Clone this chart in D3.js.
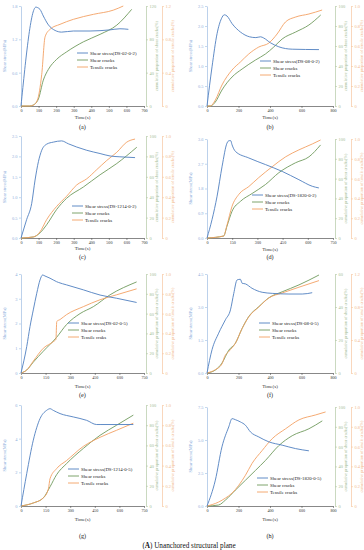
<!DOCTYPE html>
<html>
<head>
<meta charset="utf-8">
<script src="https://cdn.jsdelivr.net/npm/d3@7"></script>
<style>
  body { margin: 0; background: #fff; }
  svg { display: block; font-family: "Liberation Serif", "DejaVu Serif", serif; }
</style>
</head>
<body>
<div id="container"></div>
<script>
// specimen names and panel tags
const specimens = ["DS-02-0-2", "DS-08-0-2", "DS-1214-0-2", "DS-1820-0-2",
                   "DS-02-0-5", "DS-08-0-5", "DS-1214-0-5", "DS-1820-0-5"];
const tags = ["(a)", "(b)", "(c)", "(d)", "(e)", "(f)", "(g)", "(h)"];
const tensileNames = ["Tensile cracks", "Tensile cracks", "Tensile cracks", "Tensile cracks",
                      "Tensile craks", "Tensile cracks", "Tensile cracks", "Tensile cracks"];

// [time(s), value]
const stressA = [[0,0],[85,1.78],[95,1.77],[108,1.74],[127,1.62],[156,1.46],[194,1.36],[231,1.33],[298,1.35],[393,1.35],[506,1.37],[563,1.39],[611,1.38]];
const shearA = [[0,0],[50,0],[70,1.2],[99,8.4],[127,31],[156,44],[203,56],[260,65],[355,77],[450,86],[545,97],[630,116]];
const tensileA = [[0,0],[50,0],[70,0.01],[93,0.07],[118,0.38],[137,0.83],[165,0.92],[222,0.98],[298,1.04],[412,1.1],[525,1.15],[582,1.2]];

const stressB = [[0,0],[32,0.98],[64,1.81],[91,2.18],[110,2.28],[127,2.25],[159,2.06],[212,1.85],[270,1.73],[310,1.71],[340,1.73],[360,1.7],[403,1.58],[456,1.48],[541,1.42],[711,1.41]];
const shearB = [[0,0],[21,0],[53,4],[95,16],[159,29],[223,37],[308,46],[371,52],[424,59],[477,67],[563,74],[647,81],[722,91]];
const tensileB = [[0,0],[21,0],[53,0.06],[95,0.21],[159,0.36],[212,0.44],[265,0.52],[329,0.59],[393,0.63],[445,0.72],[498,0.84],[563,0.89],[647,0.92],[731,0.96]];

const stressC = [[0,0],[32,0.45],[61,0.85],[80,1.42],[99,1.87],[118,2.15],[146,2.3],[184,2.35],[231,2.38],[269,2.31],[317,2.23],[374,2.15],[450,2.07],[507,2.01],[563,1.99],[649,1.97]];
const shearC = [[0,0],[70,1],[108,5],[146,13],[203,28],[260,39],[355,50],[450,62],[545,73],[659,89]];
const tensileC = [[0,0],[70,0.01],[108,0.06],[146,0.18],[203,0.31],[260,0.41],[317,0.52],[374,0.58],[431,0.67],[488,0.76],[545,0.84],[602,0.94],[649,0.97]];

const stressD = [[0,0],[30,0.67],[60,1.52],[90,2.61],[119,3.45],[132,3.54],[141,3.54],[149,3.39],[169,3.15],[249,2.91],[348,2.67],[448,2.42],[547,2.12],[627,1.88],[666,1.82]];
const shearD = [[0,0],[99,2],[119,12],[149,27],[199,37],[269,45],[348,54],[428,66],[527,76],[607,82],[676,94]];
const tensileD = [[0,0],[99,0.02],[119,0.13],[149,0.32],[189,0.44],[249,0.52],[308,0.61],[388,0.72],[468,0.82],[547,0.89],[627,0.95],[676,0.99]];

const stressE = [[0,0],[35,1.07],[55,1.88],[75,2.55],[96,3.22],[116,3.76],[132,3.96],[146,3.92],[177,3.83],[217,3.69],[228,3.66],[278,3.56],[380,3.36],[482,3.15],[583,3.02],[705,2.85]];
const shearE = [[0,0],[35,3],[75,11],[136,22],[217,36],[278,49],[360,60],[441,67],[543,79],[705,92]];
const tensileE = [[0,0],[35,0.03],[75,0.12],[136,0.25],[200,0.32],[213,0.34],[218,0.52],[238,0.54],[278,0.59],[380,0.67],[482,0.74],[583,0.79],[705,0.85]];

const stressF = [[0,0],[32,1.06],[74,1.81],[117,2.42],[149,2.87],[170,3.62],[191,4.23],[212,4.26],[223,4.08],[244,4.05],[286,3.85],[350,3.67],[414,3.62],[520,3.59],[605,3.59],[668,3.65]];
const shearF = [[0,0],[53,1.8],[95,6],[138,13.8],[180,18],[223,27],[265,34.2],[329,40.2],[393,45.6],[477,49.2],[584,53.4],[711,59.4]];
const tensileF = [[0,0],[53,0.04],[95,0.11],[112,0.2],[138,0.26],[180,0.36],[223,0.54],[265,0.68],[329,0.8],[393,0.91],[477,0.97],[584,1.04],[711,1.12]];

const stressG = [[0,0],[35,1.93],[75,3.91],[116,5.19],[156,5.68],[177,5.78],[197,5.68],[238,5.49],[319,5.29],[400,5.09],[461,4.84],[482,4.84],[604,4.84],[685,4.84]];
const shearG = [[0,0],[75,3],[136,8],[177,19],[217,31],[278,42],[380,57],[482,70],[583,80],[685,90]];
const tensileG = [[0,0],[75,0.03],[136,0.08],[167,0.17],[177,0.27],[217,0.37],[278,0.45],[380,0.59],[482,0.68],[583,0.75],[685,0.82]];

const stressH = [[0,0],[53,1.96],[95,4.48],[138,5.99],[159,6.62],[180,6.54],[212,6.37],[244,6.12],[276,5.61],[329,5.23],[393,4.86],[477,4.61],[562,4.35],[647,4.18]];
const shearH = [[0,0],[74,1],[117,6],[180,16],[244,26],[308,36],[371,46],[456,61],[541,71],[647,78],[732,86]];
const tensileH = [[0,0],[74,0.04],[117,0.08],[159,0.13],[202,0.21],[244,0.31],[286,0.43],[350,0.56],[414,0.68],[499,0.78],[584,0.87],[690,0.92],[753,0.95]];

// tick values
const time700 = [0, 100, 200, 300, 400, 500, 600, 700];
const time750 = [0, 150, 300, 450, 600, 750];
const time800 = [0, 200, 400, 600, 800];
const stressTicksA = [0, 0.6, 1.2, 1.8];
const stressTicksB = [0, 0.5, 1.0, 1.5, 2.0, 2.5];
const stressTicksD = [0, 0.9, 1.8, 2.7, 3.6];
const stressTicksE = [0, 1, 2, 3, 4];
const stressTicksF = [0, 1.5, 3.0, 4.5];
const stressTicksG = [0, 2, 4, 6];
const stressTicksH = [0, 2.5, 5.0, 7.5];
const shearTicks100 = [0, 20, 40, 60, 80, 100];
const shearTicksA = [0, 40, 80, 120];
const shearTicksF = [0, 20, 40, 60];
const tensileTicks1 = [0, 0.2, 0.4, 0.6, 0.8, 1.0];
const tensileTicks12 = [0, 0.4, 0.8, 1.2];

const blue = "#4f7fc0", green = "#6f9a5c", orange = "#f3a063";
const blueAxis = "#9fbde3", greenAxis = "#b3c8a5", orangeAxis = "#f6c6a0";

const panels = [
  {stress: stressA, shear: shearA, tensile: tensileA, time: time700, sT: stressTicksA, gT: shearTicksA, oT: tensileTicks12, sf: ".1f",
   x0: 21, x1: 144, y0: 6, y1: 106, timeY: 117, tagY: 127, lx: 77, ly: 53},
  {stress: stressB, shear: shearB, tensile: tensileB, time: time800, sT: stressTicksB, gT: shearTicks100, oT: tensileTicks1, sf: ".1f",
   x0: 207, x1: 333, y0: 6, y1: 106, timeY: 117, tagY: 127, lx: 260, ly: 61},
  {stress: stressC, shear: shearC, tensile: tensileC, time: time700, sT: stressTicksB, gT: shearTicks100, oT: tensileTicks1, sf: ".1f",
   x0: 21, x1: 144, y0: 136, y1: 238, timeY: 248, tagY: 257, lx: 72, ly: 206},
  {stress: stressD, shear: shearD, tensile: tensileD, time: time750, sT: stressTicksD, gT: shearTicks100, oT: tensileTicks1, sf: ".1f",
   x0: 207, x1: 333, y0: 139, y1: 238, timeY: 249, tagY: 257, lx: 252, ly: 195},
  {stress: stressE, shear: shearE, tensile: tensileE, time: time750, sT: stressTicksE, gT: shearTicks100, oT: tensileTicks1, sf: "d",
   x0: 21, x1: 144, y0: 274, y1: 373, timeY: 386, tagY: 395, lx: 68, ly: 323},
  {stress: stressF, shear: shearF, tensile: tensileF, time: time800, sT: stressTicksF, gT: shearTicksF, oT: tensileTicks12, sf: ".1f",
   x0: 207, x1: 333, y0: 274, y1: 373, timeY: 386, tagY: 395, lx: 259, ly: 323},
  {stress: stressG, shear: shearG, tensile: tensileG, time: time750, sT: stressTicksG, gT: shearTicks100, oT: tensileTicks1, sf: "d",
   x0: 21, x1: 144, y0: 405, y1: 506, timeY: 519, tagY: 536, lx: 68, ly: 469},
  {stress: stressH, shear: shearH, tensile: tensileH, time: time800, sT: stressTicksH, gT: shearTicks100, oT: tensileTicks1, sf: ".1f",
   x0: 207, x1: 333, y0: 407, y1: 506, timeY: 519, tagY: 536, lx: 257, ly: 478}
];

const width = 364, height = 550;
const svg = d3.select("#container").append("svg")
  .attr("width", width)
  .attr("height", height)
  .attr("viewBox", [0, 0, width, height]);

const fs = 4.4;

function styleAxis(g, col, txt) {
  g.attr("font-size", fs).attr("font-family", null);
  g.select(".domain").attr("stroke", col).attr("stroke-width", 0.7);
  g.selectAll(".tick line").attr("stroke", col).attr("stroke-width", 0.6);
  g.selectAll(".tick text").attr("fill", txt);
}

panels.forEach((p, i) => {
  const x = d3.scaleLinear().domain([0, d3.max(p.time)]).range([p.x0, p.x1]);
  const yS = d3.scaleLinear().domain([0, d3.max(p.sT)]).range([p.y1, p.y0]);
  const yG = d3.scaleLinear().domain([0, d3.max(p.gT)]).range([p.y1, p.y0]);
  const yO = d3.scaleLinear().domain([0, d3.max(p.oT)]).range([p.y1, p.y0]);
  const gx = p.x1 + 2, ox = p.x1 + 18;

  // x axis
  svg.append("g")
    .attr("transform", `translate(0,${p.y1})`)
    .call(d3.axisBottom(x).tickValues(p.time).tickSize(2).tickSizeOuter(0).tickPadding(1))
    .call(g => styleAxis(g, "#555", "#333"))
    .attr("font-size", 4.1);

  // left stress axis
  svg.append("g")
    .attr("transform", `translate(${p.x0},0)`)
    .call(d3.axisLeft(yS).tickValues(p.sT).tickFormat(d3.format(p.sf)).tickSize(2).tickSizeOuter(0).tickPadding(1.5))
    .call(g => styleAxis(g, blueAxis, "#8eaedb"));

  // right shear-crack axis
  svg.append("g")
    .attr("transform", `translate(${gx},0)`)
    .call(d3.axisRight(yG).tickValues(p.gT).tickFormat(d3.format("d")).tickSize(2).tickSizeOuter(0).tickPadding(1.5))
    .call(g => styleAxis(g, greenAxis, "#a3bb93"));

  // right tensile-crack axis
  svg.append("g")
    .attr("transform", `translate(${ox},0)`)
    .call(d3.axisRight(yO).tickValues(p.oT).tickFormat(d => d === 0 ? "0" : d3.format(".1f")(d)).tickSize(2).tickSizeOuter(0).tickPadding(1.5))
    .call(g => styleAxis(g, orangeAxis, "#f2b88b"));

  const ym = (p.y0 + p.y1) / 2;
  svg.append("text")
    .attr("transform", `translate(${p.x0 - 15},${ym}) rotate(-90)`)
    .attr("text-anchor", "middle").attr("font-size", fs).attr("fill", "#8eaedb")
    .text("Shear stress(MPa)");
  svg.append("text")
    .attr("transform", `translate(${gx + 12},${ym}) rotate(-90)`)
    .attr("text-anchor", "middle").attr("font-size", 4.2).attr("fill", "#a3bb93")
    .text("cumulative proportion of shear cracks(%)");
  svg.append("text")
    .attr("transform", `translate(${ox + 12},${ym}) rotate(-90)`)
    .attr("text-anchor", "middle").attr("font-size", 4.2).attr("fill", "#f2b88b")
    .text("cumulative proportion of tensile cracks(%)");

  svg.append("text")
    .attr("x", (p.x0 + p.x1) / 2).attr("y", p.timeY).attr("dy", "0.35em")
    .attr("text-anchor", "middle").attr("font-size", 5).attr("fill", "#333")
    .text("Time(s)");
  svg.append("text")
    .attr("x", (p.x0 + p.x1) / 2).attr("y", p.tagY).attr("dy", "0.35em")
    .attr("text-anchor", "middle").attr("font-size", 6.2).attr("fill", "#222")
    .text(tags[i]);

  const series = [
    {data: p.shear, y: yG, color: green},
    {data: p.tensile, y: yO, color: orange},
    {data: p.stress, y: yS, color: blue}
  ];
  series.forEach(s => {
    svg.append("path")
      .datum(s.data)
      .attr("fill", "none")
      .attr("stroke", s.color)
      .attr("stroke-width", 0.9)
      .attr("d", d3.line().x(d => x(d[0])).y(d => s.y(d[1])).curve(d3.curveMonotoneX));
  });

  // legend
  const items = [
    {label: `Shear stress(${specimens[i]})`, color: blue},
    {label: "Shear cracks", color: green},
    {label: tensileNames[i], color: orange}
  ];
  const lg = svg.append("g").attr("transform", `translate(${p.lx},${p.ly})`);
  items.forEach((it, k) => {
    lg.append("line")
      .attr("x1", 0).attr("x2", 11).attr("y1", k * 7).attr("y2", k * 7)
      .attr("stroke", it.color).attr("stroke-width", 0.9);
    lg.append("text")
      .attr("x", 13).attr("y", k * 7).attr("dy", "0.35em")
      .attr("font-size", 4.8).attr("fill", "#222")
      .text(it.label);
  });
});

// caption
const cap = svg.append("text")
  .attr("x", 189).attr("y", 545).attr("dy", "0.35em")
  .attr("text-anchor", "middle").attr("font-size", 7.2).attr("fill", "#111");
cap.append("tspan").text("(");
cap.append("tspan").attr("font-weight", "bold").text("A");
cap.append("tspan").text(") Unanchored structural plane");
</script>
</body>
</html>
